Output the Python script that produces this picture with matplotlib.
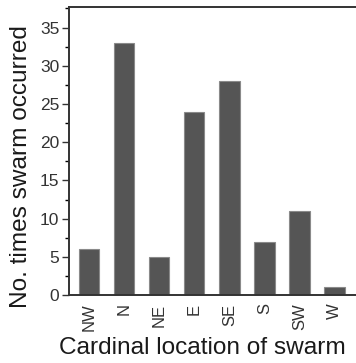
import matplotlib
matplotlib.use("Agg")
import matplotlib.pyplot as plt
from matplotlib.ticker import MultipleLocator

richtung = ["NW", "N", "NE", "E", "SE", "S", "SW", "W"]
anzahl = [6, 33, 5, 24, 28, 7, 11, 1]
y_ticks = [0, 5, 10, 15, 20, 25, 30, 35]

plt.rcParams["font.family"] = ["Liberation Sans", "DejaVu Sans"]

fig = plt.figure(figsize=(3.56, 3.63), dpi=100, facecolor="white")
ax = fig.add_axes([0.194, 0.187, 0.806, 0.794])

x = range(len(richtung))
ax.bar(x, anzahl, width=0.58, color="#555555", edgecolor="#8a8a8a", linewidth=0.8)

ax.set_xlim(-0.57, 7.61)
ax.set_ylim(0, 37.7)
ax.set_xticks(list(x))
ax.set_xticklabels(richtung, rotation=90, fontsize=12)
ax.set_yticks(y_ticks)
ax.tick_params(axis="y", labelsize=12.5, direction="out", length=5, width=1,
               colors="#333333", pad=2)
ax.yaxis.set_minor_locator(MultipleLocator(2.5))
ax.tick_params(axis="y", which="minor", direction="out", length=3, width=1)
ax.tick_params(axis="x", length=0, pad=6, colors="#333333")

for s in ("left", "top", "bottom"):
    ax.spines[s].set_color("#333333")
    ax.spines[s].set_linewidth(1.4)
ax.spines["right"].set_visible(False)

ax.set_ylabel("No. times swarm occurred", fontsize=17.6, color="#1a1a1a")
ax.yaxis.set_label_coords(-0.128, 0.445)
ax.set_xlabel("Cardinal location of swarm", fontsize=17.6, color="#1a1a1a")
ax.xaxis.set_label_coords(0.463, -0.145)
ax.xaxis.label.set_verticalalignment("top")

fig.savefig("out.png", dpi=100, facecolor="white")
